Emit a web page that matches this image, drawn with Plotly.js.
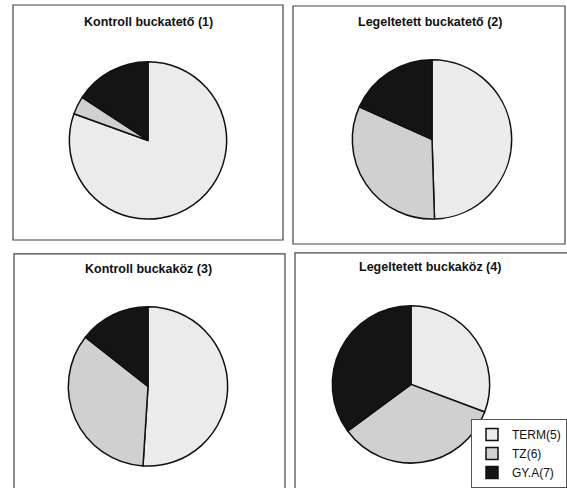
<!DOCTYPE html>
<html>
<head>
<meta charset="utf-8">
<script src="https://cdn.plot.ly/plotly-3.0.1.min.js"></script>
<style>
html,body{margin:0;padding:0;background:#fff;}
#chart{width:567px;height:488px;}
</style>
</head>
<body>
<div id="chart"></div>
<script>
// Data
const categories = ["TERM(5)", "TZ(6)", "GY.A(7)"];
const panelTitles = ["Kontroll buckatető (1)", "Legeltetett buckatető (2)", "Kontroll buckaköz (3)", "Legeltetett buckaköz (4)"];
const kontrollBuckateto = [80.5, 3.7, 15.8];
const legeltetettBuckateto = [49.5, 32.2, 18.3];
const kontrollBuckakoz = [51.0, 34.6, 14.4];
const legeltetettBuckakoz = [30.7, 34.2, 35.1];
const seriesValues = [kontrollBuckateto, legeltetettBuckateto, kontrollBuckakoz, legeltetettBuckakoz];

const W = 567, H = 488;
const colors = ["#ebebeb", "#d0d0d0", "#141414"];

// pie placement in pixels: [x0, x1, yTop, yBottom]
const pieBoxes = [
  [69, 227, 62, 220],
  [352, 512, 60, 220],
  [68, 228, 308, 468],
  [332, 490, 307, 465]
];
const titlePos = [[148, 22], [430, 22], [148, 270], [430, 268]];
const panels = [
  [13, 283, 5, 241],
  [293, 565, 6, 245],
  [14, 285, 255, 492],
  [295, 570, 254, 492]
];

const traces = seriesValues.map((vals, i) => {
  const b = pieBoxes[i];
  return {
    type: "pie",
    labels: categories,
    values: vals,
    sort: false,
    direction: "clockwise",
    rotation: 0,
    textinfo: "none",
    hoverinfo: "label+percent",
    marker: {colors: colors, line: {color: "#111", width: 1.5}},
    domain: {x: [b[0] / W, b[1] / W], y: [1 - b[3] / H, 1 - b[2] / H]},
    showlegend: i === 0
  };
});

const annotations = panelTitles.map((t, i) => ({
  text: "<b>" + t + "</b>",
  x: titlePos[i][0] / W, y: 1 - titlePos[i][1] / H,
  xref: "paper", yref: "paper", xanchor: "center", yanchor: "middle",
  showarrow: false,
  font: {family: "Liberation Sans, Arial, sans-serif", size: 12.5, color: "#111"}
}));

const shapes = panels.map(p => ({
  type: "rect", xref: "paper", yref: "paper",
  x0: p[0] / W, x1: p[1] / W, y0: 1 - p[3] / H, y1: 1 - p[2] / H,
  line: {color: "#444", width: 1.2}, fillcolor: "rgba(0,0,0,0)", layer: "below"
}));

const layout = {
  width: W, height: H,
  margin: {l: 0, r: 0, t: 0, b: 0},
  paper_bgcolor: "#fff",
  plot_bgcolor: "#fff",
  font: {family: "Liberation Sans, Arial, sans-serif", color: "#111"},
  annotations: annotations,
  shapes: shapes,
  showlegend: true,
  legend: {
    x: 1, y: 1 - 421 / H, xanchor: "right", yanchor: "top",
    bgcolor: "#fff", bordercolor: "#555", borderwidth: 1,
    font: {size: 12, color: "#111"},
    itemwidth: 30,
    traceorder: "normal"
  }
};

Plotly.newPlot("chart", traces, layout, {displayModeBar: false, staticPlot: true});
</script>
</body>
</html>
